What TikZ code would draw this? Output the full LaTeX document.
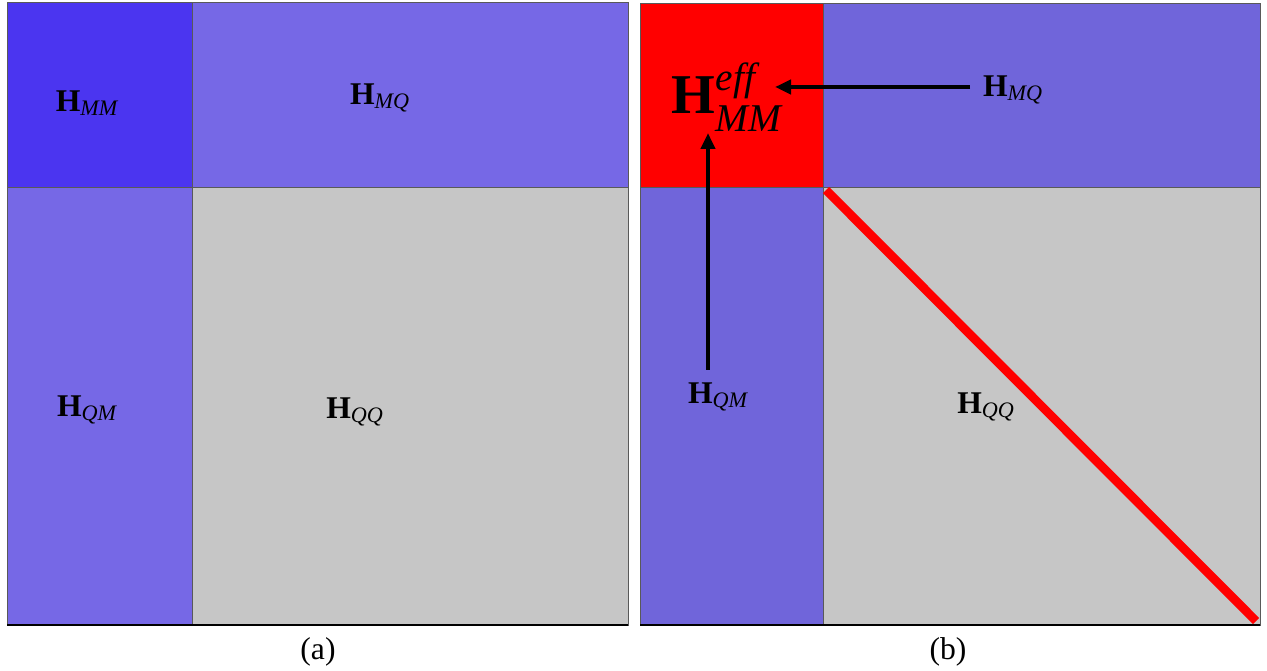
\documentclass[tikz,border=0pt]{standalone}
\usepackage{amsmath}
\usepackage{fontspec}
\setmainfont{Liberation Serif}
\usetikzlibrary{arrows.meta}

\definecolor{mmblue}{RGB}{75,53,240}
\definecolor{offblue}{RGB}{118,104,230}
\definecolor{offblueb}{RGB}{112,101,218}
\definecolor{qqgray}{RGB}{198,198,198}
\definecolor{effred}{RGB}{255,0,0}

\tikzset{
	blk/.style={draw=black!65, line width=0.5pt},
	lbl/.style={font=\fontsize{18}{21}\selectfont, inner sep=1pt},
	biglbl/.style={font=\fontsize{32}{38}\selectfont, inner sep=1pt},
	caplbl/.style={font=\fontsize{18}{21}\selectfont},
	flow/.style={line width=2.8pt, -{Triangle[length=0.32cm,width=0.28cm]}},
}
\newcommand{\hblk}[1]{$\textbf{H}_{\textit{#1}}$}

\begin{document}
\begin{tikzpicture}[x=0.02cm, y=-0.02cm]
	\useasboundingbox (0,0) rectangle (1267,671);
	% panel (a)
	\filldraw[blk, fill=mmblue] (7,2) rectangle (192,187);
	\filldraw[blk, fill=offblue] (192,2) rectangle (628,187);
	\filldraw[blk, fill=offblue] (7,187) rectangle (192,625);
	\filldraw[blk, fill=qqgray] (192,187) rectangle (628,625);
	\draw[line width=1.2pt] (7,625) -- (628,625);
		\node (amm)[lbl] at (87,103) {\hblk{MM}} ;
		\node (amq)[lbl] at (380,98) {\hblk{MQ}} ;
		\node (aqm)[lbl] at (87,410) {\hblk{QM}} ;
		\node (aqq)[lbl] at (355,412) {\hblk{QQ}} ;
		\node (capa)[caplbl] at (318,652) {(a)} ;
	% panel (b)
	\filldraw[blk, fill=effred] (640,3) rectangle (823,187);
	\filldraw[blk, fill=offblueb] (823,3) rectangle (1260,187);
	\filldraw[blk, fill=offblueb] (640,187) rectangle (823,625);
	\filldraw[blk, fill=qqgray] (823,187) rectangle (1260,625);
	\draw[line width=1.2pt] (640,625) -- (1260,625);
		\node (heff)[biglbl] at (727,97) {$\textbf{H}^{\textit{eff}}_{\textit{MM}}$} ;
		\node (bmq)[lbl] at (1013,90) {\hblk{MQ}} ;
		\node (bqm)[lbl] at (718,397) {\hblk{QM}} ;
		\node (bqq)[lbl] at (986,407) {\hblk{QQ}} ;
		\node (capb)[caplbl] at (948,652) {(b)} ;
		\coordinate (mqtail) at (970,87) ;
		\coordinate (efftipr) at (775,87) ;
		\coordinate (qmtail) at (708,370) ;
		\coordinate (efftipb) at (708,133) ;
		\coordinate (qqtop) at (826,190) ;
		\coordinate (qqbot) at (1256,621) ;
	\draw[flow] (mqtail) -- (efftipr) ;
	\draw[flow] (qmtail) -- (efftipb) ;
	\draw[effred, line width=5pt] (qqtop) -- (qqbot) ;
\end{tikzpicture}
\end{document}
